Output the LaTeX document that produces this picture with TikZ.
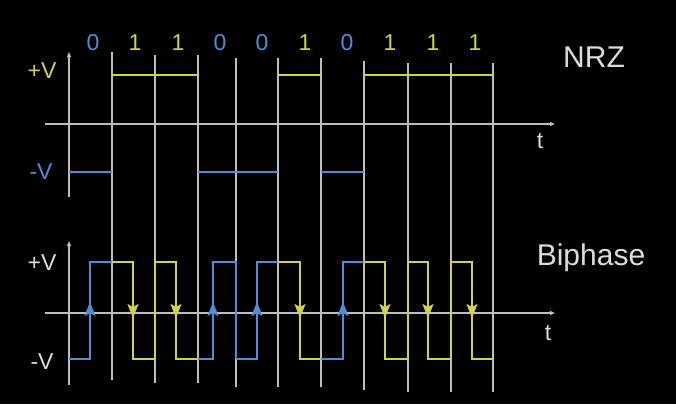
\documentclass[tikz,border=0pt]{standalone}
\usepackage{fontspec}
\setmainfont{Liberation Sans}
\usetikzlibrary{arrows.meta}
\definecolor{sigyel}{HTML}{D2D24A}
\definecolor{sigblu}{HTML}{4F8ED6}
\definecolor{gridgr}{HTML}{BEBEBE}
\definecolor{txtwh}{HTML}{DCDCDC}
\tikzset{
  gridln/.style={gridgr, line width=1.2pt},
  axisln/.style={gridgr, line width=1.2pt, -{Triangle[length=5pt,width=4pt]}},
  ylw/.style={sigyel, line width=1.7pt, line join=miter},
  blu/.style={sigblu, line width=1.7pt, line join=miter},
  uptip/.style={-{Stealth[length=14pt,width=11pt,inset=3pt]}, line width=1.7pt},
  bitlbl/.style={font=\fontsize{23}{23}\selectfont, inner sep=0pt},
  vlbl/.style={font=\fontsize{23}{23}\selectfont, inner sep=0pt},
  title/.style={font=\fontsize{30}{30}\selectfont, inner sep=0pt, txtwh}
}
\begin{document}
\begin{tikzpicture}[x=1pt,y=-1pt]
\fill[black] (0,0) rectangle (676,404);
\useasboundingbox (0,0) rectangle (676,404);
% grid lines at bit boundaries
\foreach \x/\t/\b in {112/52/380,155/55/383,198/55/383,236/58/387,278/58/387,321/58/387,364/61/390,408/63/392,451/63/392,493/63/392}
  \draw[gridln] (\x,\t) -- (\x,\b);
% NRZ axes
\coordinate (ny0) at (69,197);
\coordinate (ny1) at (69,52);
\coordinate (nt0) at (45,124);
\coordinate (nt1) at (555,124);
\draw[axisln] (ny0) -- (ny1);
\draw[axisln] (nt0) -- (nt1);
% Biphase axes
\coordinate (by0) at (69,385);
\coordinate (by1) at (69,241);
\coordinate (bt0) at (45,313);
\coordinate (bt1) at (555,313);
\draw[axisln] (by0) -- (by1);
\draw[axisln] (bt0) -- (bt1);
% NRZ signal
\draw[blu] (69,172) -- (112,172);
\draw[ylw] (112,75) -- (198,75);
\draw[blu] (198,172) -- (278,172);
\draw[ylw] (278,75) -- (321,75);
\draw[blu] (321,172) -- (364,172);
\draw[ylw] (364,75) -- (493,75);
% Biphase signal
\draw[blu] (69,359) -- (90,359) -- (90,262) -- (112,262);
\draw[ylw] (112,262) -- (133,262) -- (133,359) -- (155,359) -- (155,262);
\draw[ylw] (155,262) -- (176,262) -- (176,359) -- (198,359);
\draw[blu] (198,359) -- (213,359) -- (213,262) -- (236,262) -- (236,359);
\draw[blu] (236,359) -- (257,359) -- (257,262) -- (278,262);
\draw[ylw] (278,262) -- (300,262) -- (300,359) -- (321,359);
\draw[blu] (321,359) -- (343,359) -- (343,262) -- (364,262);
\draw[ylw] (364,262) -- (385,262) -- (385,359) -- (408,359) -- (408,262);
\draw[ylw] (408,262) -- (428,262) -- (428,359) -- (451,359) -- (451,262);
\draw[ylw] (451,262) -- (472,262) -- (472,359) -- (493,359);
% mid-bit arrows
\foreach \x in {90,213,257,343}
  \draw[sigblu, uptip] (\x,330) -- (\x,302);
\foreach \x in {133,176,300,385,428,472}
  \draw[sigyel, uptip] (\x,290) -- (\x,318);
% bit labels
\foreach \x/\b in {93/0,220/0,262/0,347/0}
  \node[bitlbl, sigblu] (b\x) at (\x,43) {\b};
\foreach \x/\b in {135/1,178/1,305/1,390/1,433/1,475/1}
  \node[bitlbl, sigyel] (b\x) at (\x,43) {\b};
% level labels
\node[vlbl, sigyel] (npv) at (42,71) {+V};
\node[vlbl, sigblu] (nmv) at (41,172) {-V};
\node[vlbl, txtwh] (bpv) at (42,263) {+V};
\node[vlbl, txtwh] (bmv) at (42,362) {-V};
\node[vlbl, txtwh] (nt) at (540,141) {t};
\node[vlbl, txtwh] (bt) at (548,333) {t};
% titles
\node[title] (nrz) at (594,57) {NRZ};
\node[title, anchor=base] (bip) at (591,265) {Biphase};
\end{tikzpicture}
\end{document}
